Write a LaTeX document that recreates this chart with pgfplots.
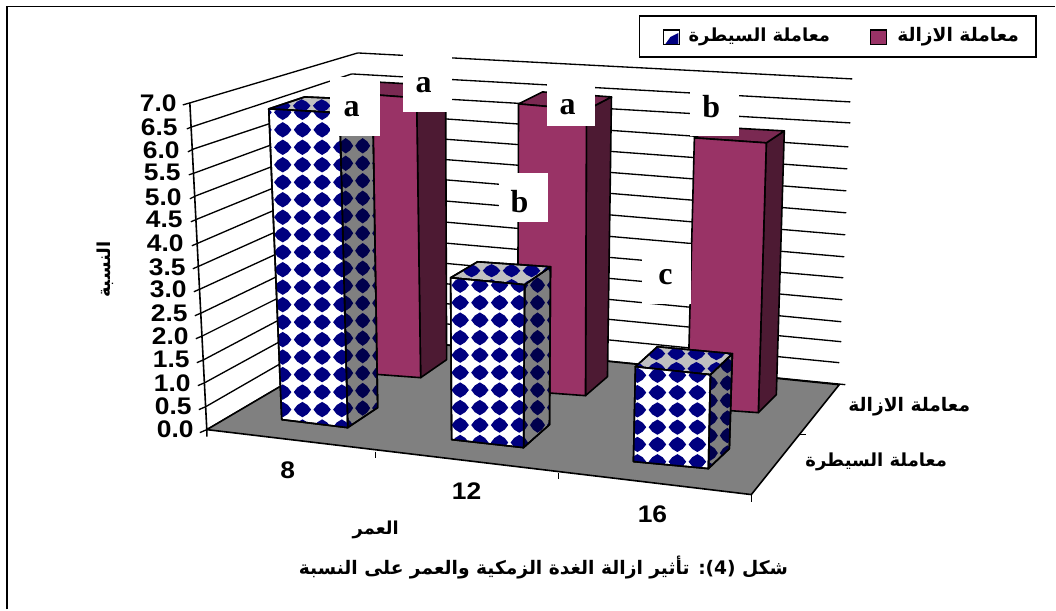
\documentclass[border=0pt]{standalone}
\usepackage{pgfplots}
\usepackage{fontspec}
\usetikzlibrary{patterns}
\pgfplotsset{compat=1.18}
\TeXXeTstate=1
\setmainfont{Liberation Sans}
\newfontfamily\arabicfont[Script=Arabic]{DejaVu Sans}
\newfontfamily\serifb{Liberation Serif}
\newfontface\numfont[FakeStretch=1.1]{Liberation Sans Bold}
\definecolor{barfront}{HTML}{993366}
\definecolor{barside}{HTML}{4D1A33}
\definecolor{bartop}{HTML}{7A2952}
\definecolor{ctrlnavy}{HTML}{000080}
\definecolor{ctrldark}{HTML}{00004D}
\definecolor{floorgray}{HTML}{808080}
\definecolor{toplight}{HTML}{C0C0C0}
% texture tile: diamond centred on a pixel of the picture, lattice w x h pixels
\newcommand\tile[5]{%
 \pgfmathsetmacro\cx{#2*0.75}\pgfmathsetmacro\cy{(610-#3)*0.75}%
 \pgfmathsetmacro\w{#4*0.75}\pgfmathsetmacro\h{#5*0.75}%
 \pgfmathsetmacro\xa{\cx-\w/2}\pgfmathsetmacro\xb{\cx+\w/2}%
 \pgfmathsetmacro\ya{\cy-\h/2}\pgfmathsetmacro\yb{\cy+\h/2}%
 \pgfmathsetmacro\tx{0.44*\w}\pgfmathsetmacro\ty{0.44*\h}%
 \pgfmathsetmacro\mx{0.26*\w}\pgfmathsetmacro\my{0.26*\h}%
 \edef\doit{\noexpand\pgfdeclarepatternformonly{#1}%
  {\noexpand\pgfqpoint{\xa pt}{\ya pt}}{\noexpand\pgfqpoint{\xb pt}{\yb pt}}%
  {\noexpand\pgfqpoint{\w pt}{\h pt}}{%
   \noexpand\pgfpathmoveto{\noexpand\pgfpoint{\cx pt+\tx pt}{\cy pt}}%
   \noexpand\pgfpathlineto{\noexpand\pgfpoint{\cx pt+\mx pt}{\cy pt+\my pt}}%
   \noexpand\pgfpathlineto{\noexpand\pgfpoint{\cx pt}{\cy pt+\ty pt}}%
   \noexpand\pgfpathlineto{\noexpand\pgfpoint{\cx pt-\mx pt}{\cy pt+\my pt}}%
   \noexpand\pgfpathlineto{\noexpand\pgfpoint{\cx pt-\tx pt}{\cy pt}}%
   \noexpand\pgfpathlineto{\noexpand\pgfpoint{\cx pt-\mx pt}{\cy pt-\my pt}}%
   \noexpand\pgfpathlineto{\noexpand\pgfpoint{\cx pt}{\cy pt-\ty pt}}%
   \noexpand\pgfpathlineto{\noexpand\pgfpoint{\cx pt+\mx pt}{\cy pt-\my pt}}%
   \noexpand\pgfpathclose\noexpand\pgfusepath{fill}}}%
 \doit}
\tile{fa}{283}{129}{19.7}{17.5}
\tile{fb}{500}{302}{19.7}{17.5}
\tile{fc}{658}{392}{20}{17.3}
\tile{sa}{363}{145}{17}{17.5}
\tile{sb}{538}{302}{17}{17.5}
\tile{sc}{728}{400}{17}{17.5}
\tile{ta}{302}{105}{20}{15}
\tile{tb}{492}{270}{20}{15}
\tile{tc}{677}{368}{20}{15}
\tikzset{
 edge/.style={black,line width=1.2pt,line join=round},
 gridl/.style={black,line width=1pt,no markers},
}
\newcommand\face[2]{\addplot[edge,#1] coordinates {#2} -- cycle;}
\newcommand\gl[1]{\addplot[gridl] coordinates {#1};}
\newcommand\letter[3]{\node[inner sep=0,font=\serifb\bfseries\fontsize{24}{26}\selectfont] at (axis cs:#1,#2) {#3};}
\newcommand\cat[3]{\node[inner sep=0,font=\numfont\fontsize{18}{20}\selectfont] at (axis cs:#1,#2) {#3};}
\newcommand\val[3]{\node[inner sep=0,anchor=east,font=\numfont\fontsize{18}{20}\selectfont] at (axis cs:#1,#2) {#3};}
\begin{document}
\begin{tikzpicture}
\begin{axis}[
 scale only axis,width=792pt,height=457.5pt,
 xmin=0,xmax=1056,ymin=0,ymax=610,y dir=reverse,
 hide axis,clip=false,
]
% page extent
\addplot[fill=white,draw=none] coordinates {(0,0)(1056,0)(1056,610)(0,610)} -- cycle;
% frame: top and left rules only
\addplot[black,line width=1.4pt,no markers] coordinates {(7,610) (7,6.5) (1056,6.5)};
% left wall grid (value 0 ... 7)
\gl{(200,433)(207,430)(365,337)}
\gl{(199,410)(206,407)(364,316)}
\gl{(198,386)(205,383)(364,296)}
\gl{(197,363)(204,360)(363,276)}
\gl{(196,339)(203,336)(363,256)}
\gl{(195,316)(202,313)(362,236)}
\gl{(194,292)(201,289)(362,215)}
\gl{(193,269)(200,266)(361,194)}
\gl{(192,246)(199,243)(361,173)}
\gl{(191,222)(198,219)(360,153)}
\gl{(190,199)(196,196)(360,133)}
\gl{(189,175)(195,173)(359,113)}
\gl{(188,152)(194,149)(359,94)}
\gl{(187,129)(192,127)(352,74)}
\gl{(183,105)(190,103)(358,53)}
% back wall grid
\gl{(365,337)(846,385)}
\gl{(364,316)(840,363)}
\gl{(364,296)(842,342)}
\gl{(363,276)(842,322)}
\gl{(363,256)(843,300)}
\gl{(362,236)(844,278)}
\gl{(362,215)(845,257)}
\gl{(361,194)(846,235)}
\gl{(361,173)(847,213)}
\gl{(360,153)(847,191)}
\gl{(360,133)(848,169)}
\gl{(359,113)(849,147)}
\gl{(359,94)(851,123)}
\gl{(352,74)(851,102)}
\gl{(358,53)(853,79)}
% y axis line
\addplot[edge] coordinates {(190,103)(207,430)(207,437)};
% floor
\face{fill=floorgray}{(207,430)(365,337)(840,385)(752,495)}
% axis ticks
\addplot[gridl] coordinates {(376,452)(376,458)};
\addplot[gridl] coordinates {(559,473)(559,479)};
\addplot[gridl] coordinates {(752,495)(752,502)};
\addplot[gridl] coordinates {(800,435)(807,435)};
\addplot[gridl] coordinates {(840,385)(846,385)};
% removal bars (back row)
\face{fill=barside}{(417,98)(446,86)(447,360)(421,378)}
\face{fill=bartop}{(349,93)(375,82)(446,86)(417,98)}
\face{fill=barfront}{(349,93)(417,98)(421,378)(354,373)}
\face{fill=barside}{(587,110)(612,97)(608,377)(586,396)}
\face{fill=bartop}{(519,104)(543,92)(612,97)(587,110)}
\face{fill=barfront}{(519,104)(587,110)(586,396)(518,391)}
\face{fill=barside}{(767,143)(785,131)(777,395)(759,413)}
\face{fill=bartop}{(695,138)(713,127)(785,131)(767,143)}
\face{fill=barfront}{(695,138)(767,143)(759,413)(688,408)}
% control bars (front row)
\face{fill=floorgray,postaction={pattern=sa,pattern color=ctrldark}}{(340,113)(373,100)(378,408)(348,428)}
\face{fill=toplight,postaction={pattern=ta,pattern color=ctrlnavy}}{(269,109)(305,97)(373,100)(340,113)}
\face{fill=white,postaction={pattern=fa,pattern color=ctrlnavy}}{(269,109)(340,113)(348,428)(282,420)}
\face{fill=floorgray,postaction={pattern=sb,pattern color=ctrldark}}{(525,285)(551,267)(550,425)(524,448)}
\face{fill=toplight,postaction={pattern=tb,pattern color=ctrlnavy}}{(451,278)(478,262)(551,267)(525,285)}
\face{fill=white,postaction={pattern=fb,pattern color=ctrlnavy}}{(451,278)(525,285)(524,448)(452,440)}
\face{fill=floorgray,postaction={pattern=sc,pattern color=ctrldark}}{(711,375)(733,354)(730,449)(709,469)}
\face{fill=toplight,postaction={pattern=tc,pattern color=ctrlnavy}}{(636,367)(658,347)(733,354)(711,375)}
\face{fill=white,postaction={pattern=fc,pattern color=ctrlnavy}}{(636,367)(711,375)(709,469)(634,462)}
% white label boxes
\addplot[fill=white,draw=none] coordinates {(330,77)(380,77)(380,136)(330,136)} -- cycle;
\addplot[fill=white,draw=none] coordinates {(403,52)(452,52)(452,112)(403,112)} -- cycle;
\addplot[fill=white,draw=none] coordinates {(547,67)(596,67)(596,126)(547,126)} -- cycle;
\addplot[fill=white,draw=none] coordinates {(691,77)(740,77)(740,136)(691,136)} -- cycle;
\addplot[fill=white,draw=none] coordinates {(499,173)(548,173)(548,222)(499,222)} -- cycle;
\addplot[fill=white,draw=none] coordinates {(643,244)(692,244)(692,304)(643,304)} -- cycle;
% legend
\addplot[fill=white,draw=black,line width=1.2pt] coordinates {(640,16)(1037,16)(1037,57)(640,57)} -- cycle;
\addplot[fill=barfront,draw=black,line width=0.8pt] coordinates {(871,30)(887,30)(887,45)(871,45)} -- cycle;
\addplot[fill=white,draw=black,line width=0.8pt] coordinates {(664,30)(680,30)(680,45)(664,45)} -- cycle;
\addplot[fill=ctrlnavy,draw=none] coordinates {(666,44)(671,37)(679,33)(679,44)} -- cycle;
% texts
\node[inner sep=0,font=\arabicfont\bfseries\fontsize{14}{16}\selectfont] at (axis cs:959,37) {\beginR معاملة الازالة\endR};
\node[inner sep=0,font=\arabicfont\bfseries\fontsize{13.5}{16}\selectfont] at (axis cs:760,37) {\beginR معاملة السيطرة\endR};
\node[inner sep=0,font=\arabicfont\bfseries\fontsize{14}{16}\selectfont] at (axis cs:910,407) {\beginR معاملة الازالة\endR};
\node[inner sep=0,font=\arabicfont\bfseries\fontsize{13.5}{16}\selectfont] at (axis cs:877,462) {\beginR معاملة السيطرة\endR};
\node[inner sep=0,font=\arabicfont\bfseries\fontsize{13.4}{16}\selectfont,rotate=90] at (axis cs:105,270) {\beginR النسبة\endR};
\node[inner sep=0,font=\arabicfont\bfseries\fontsize{13.4}{16}\selectfont] at (axis cs:376,530) {\beginR العمر\endR};
\node[inner sep=0,font=\arabicfont\bfseries\fontsize{14}{16}\selectfont] at (axis cs:544,568) {\beginR شكل (\beginL 4\endL): تأثير ازالة الغدة الزمكية والعمر على النسبة\endR};
% letters
\letter{352}{109}{a}\letter{424}{85}{a}\letter{568}{107}{a}
\letter{712}{107}{b}\letter{520}{202}{b}\letter{666}{277}{c}
% category labels
\cat{288}{471}{8}\cat{467}{492}{12}\cat{653}{515}{16}
% value labels
\val{177}{103}{7.0}\val{178}{127}{6.5}\val{180}{150}{6.0}\val{181}{173}{5.5}
\val{182}{197}{5.0}\val{183}{220}{4.5}\val{184}{243}{4.0}\val{186}{267}{3.5}
\val{187}{290}{3.0}\val{188}{314}{2.5}\val{189}{337}{2.0}\val{190}{360}{1.5}
\val{191}{384}{1.0}\val{192}{407}{0.5}\val{194}{430}{0.0}
\end{axis}
\end{tikzpicture}
\end{document}
